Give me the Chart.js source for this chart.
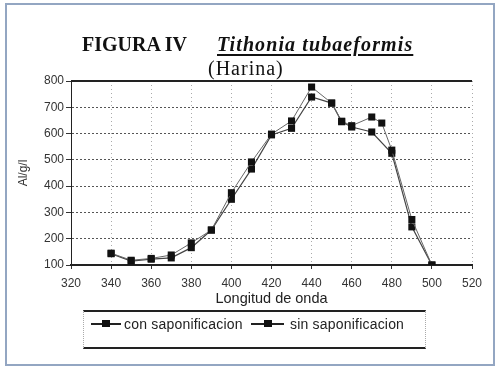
<!DOCTYPE html>
<html><head><meta charset="utf-8">
<script src="https://cdn.jsdelivr.net/npm/chart.js@4/dist/chart.umd.min.js"></script>
<style>
html,body{margin:0;padding:0;background:#fff;}
#wrap{position:relative;width:500px;height:373px;overflow:hidden;background:#fff;}
#frame{position:absolute;left:5px;top:3px;width:486px;height:359px;border:2px solid #93a6c2;pointer-events:none;}
#c{position:absolute;left:0;top:0;}
.t{position:absolute;white-space:nowrap;color:#111;line-height:1;}
#fig{left:82px;top:33px;font:bold 20px "Liberation Serif",serif;}
#sp{left:217px;top:33px;font:italic bold 20px "Liberation Serif",serif;letter-spacing:1.1px;text-decoration:underline;text-decoration-thickness:2px;text-underline-offset:3px;}
#har{left:208px;top:57px;font:20px "Liberation Serif",serif;letter-spacing:1px;}
#legend{position:absolute;left:83px;top:310px;width:341px;height:35px;border-top:2px solid #222;border-bottom:2px solid #222;border-left:1px dotted #aaa;border-right:1px dotted #aaa;}
.li{position:absolute;top:4px;font:14px "Liberation Sans",sans-serif;letter-spacing:0.2px;color:#222;white-space:nowrap;}
.mk{position:absolute;top:11px;height:2px;background:#222;}
.mk i{position:absolute;left:50%;top:-3px;width:8px;height:7px;margin-left:-4px;background:#111;}
</style></head>
<body>
<div id="wrap">
  <canvas id="c" width="500" height="373"></canvas>
  <div class="t" id="fig">FIGURA IV</div>
  <div class="t" id="sp">Tithonia tubaeformis</div>
  <div class="t" id="har">(Harina)</div>
  <div id="legend"></div>
  <div id="frame"></div>
</div>
<script>
const seriesLabels = ['con saponificacion', 'sin saponificacion'];
const wavelengthsCon = [340,350,360,370,380,390,400,410,420,430,440,450,455,460,470,475,480,490,500];
const conSaponificacion = [145,118,125,138,184,233,375,492,598,648,777,716,647,630,663,640,537,273,100];
const wavelengthsSin = [340,350,360,370,380,390,400,410,420,430,440,450,455,460,470,480,490,500];
const sinSaponificacion = [143,115,122,127,166,233,350,465,595,620,739,716,645,625,606,525,245,100];
const xTicks = [320,340,360,380,400,420,440,460,480,500,520];
const yTicks = [100,200,300,400,500,600,700,800];
const xTitle = 'Longitud de onda';
const yTitle = 'Al/g/l';

function pts(xs, ys){ return xs.map((x,i)=>({x:x,y:ys[i]})); }

// HTML legend built from labels
const lg = document.getElementById('legend');
const legendPos = [{mk:7,w:30,tx:40},{mk:167,w:33,tx:206}];
seriesLabels.forEach((lab,i)=>{
  const m=document.createElement('div'); m.className='mk';
  m.style.left=legendPos[i].mk+'px'; m.style.width=legendPos[i].w+'px';
  m.appendChild(document.createElement('i')); lg.appendChild(m);
  const t=document.createElement('div'); t.className='li';
  t.style.left=legendPos[i].tx+'px'; t.textContent=lab; lg.appendChild(t);
});

const topBorder = {
  id:'topBorder',
  afterDraw(chart){
    const a=chart.chartArea, ctx=chart.ctx;
    ctx.save(); ctx.strokeStyle='#222'; ctx.lineWidth=2;
    ctx.beginPath(); ctx.moveTo(a.left, a.top); ctx.lineTo(a.right, a.top); ctx.stroke();
    ctx.restore();
  }
};

new Chart(document.getElementById('c'), {
  type:'line',
  data:{ datasets:[
    {label:seriesLabels[0], data:pts(wavelengthsCon, conSaponificacion), borderColor:'#666', borderWidth:1,
     pointStyle:'rect', pointRadius:5, pointBackgroundColor:'#111', pointBorderColor:'#111', pointBorderWidth:0, tension:0},
    {label:seriesLabels[1], data:pts(wavelengthsSin, sinSaponificacion), borderColor:'#444', borderWidth:1.2,
     pointStyle:'rect', pointRadius:5, pointBackgroundColor:'#111', pointBorderColor:'#111', pointBorderWidth:0, tension:0}
  ]},
  options:{
    responsive:false, animation:false, devicePixelRatio:1,
    layout:{padding:{top:81,right:28,left:0,bottom:63}},
    plugins:{legend:{display:false}, title:{display:false}, tooltip:{enabled:false}},
    scales:{
      x:{type:'linear', min:320, max:520,
         afterBuildTicks(s){ s.ticks = xTicks.map(v=>({value:v})); },
         afterFit(s){ s.height = 45; },
         ticks:{font:{family:'Liberation Sans', size:12}, color:'#333', padding:7, maxRotation:0},
         grid:{color:'#aaa', lineWidth:1, tickLength:4, tickColor:'#333'},
         border:{display:true, color:'#222', width:2, dash:[1,3]},
         title:{display:true, text:xTitle, font:{family:'Liberation Sans', size:14.5}, color:'#222', padding:{top:0,bottom:2}}
      },
      y:{type:'linear', min:100, max:800,
         afterBuildTicks(s){ s.ticks = yTicks.map(v=>({value:v})); },
         afterFit(s){ s.width = 71; },
         ticks:{font:{family:'Liberation Sans', size:12}, color:'#333', padding:2},
         grid:{color:'#555', lineWidth:1, tickLength:5, tickColor:'#333'},
         border:{display:true, color:'#222', width:1, dash:[2,2]},
         title:{display:true, text:yTitle, font:{family:'Liberation Sans', size:12}, color:'#333', padding:{top:16,bottom:0}}
      }
    }
  },
  plugins:[topBorder]
});
</script>
</body></html>
